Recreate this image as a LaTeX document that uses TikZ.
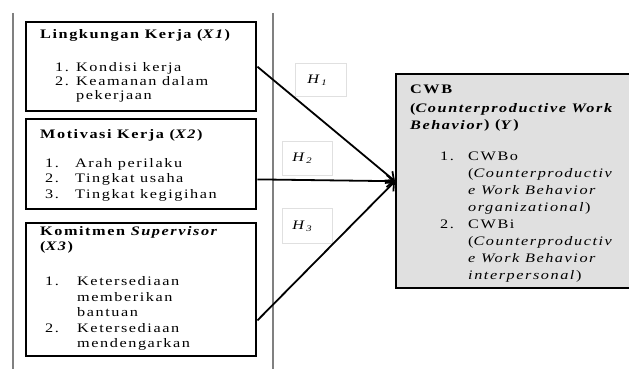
\documentclass[tikz,border=0pt]{standalone}
\usepackage{fontspec}
\setmainfont{Liberation Serif}[FakeStretch=1.25,LetterSpace=12]
\usetikzlibrary{arrows.meta,calc}
\newcommand{\hlab}[1]{\textit{H}\raisebox{-2pt}{\fontsize{8.5}{8.5}\selectfont\textit{#1}}}
\begin{document}
\begin{tikzpicture}[x=1pt,y=-1pt,
 box/.style={draw=black,line width=2.4pt,inner sep=0pt,anchor=north west},
 txt/.style={anchor=base west,inner sep=0pt},
 hbox/.style={draw=black!12,line width=0.8pt,fill=white,anchor=north west,inner xsep=0pt,inner ysep=0pt,align=left,font=\fontsize{13}{15}\selectfont},
 arr/.style={line width=1.8pt,-{Straight Barb[length=7pt,width=12pt,line width=1.8pt]}},
 vline/.style={draw=black!50,line width=1.2pt}]
\useasboundingbox (0,0) rectangle (629,369);
\clip (0,0) rectangle (629,369);
\draw[vline] (13,13) -- (13,369);
\draw[vline] (273,13) -- (273,369);
\node[box,minimum width=230pt,minimum height=89pt] (x1) at (25,21) {};
\node[box,minimum width=230pt,minimum height=90pt] (x2) at (25,118) {};
\node[box,minimum width=230pt,minimum height=133pt] (x3) at (25,222) {};
\node[box,fill=black!12,minimum width=245pt,minimum height=214pt] (y) at (395,73) {};
\node[hbox,text width=51pt,minimum height=33pt] (h1) at (295,63) {\hspace*{12pt}\hlab{1}};
\node[hbox,text width=50pt,minimum height=34pt] (h2) at (282,141) {\hspace*{10pt}\hlab{2}};
\node[hbox,text width=50pt,minimum height=35pt] (h3) at (282,208) {\hspace*{10pt}\hlab{3}};
\draw[arr] (x1.east) -- (y.west);
\draw[arr] ($(x2.south east)+(0,-31)$) -- (y.west);
\draw[arr] ($(x3.south east)+(0,-37)$) -- (y.west);
\node[txt,font=\fontsize{13}{14}\selectfont] (t1) at (40,39) {\begin{tabular}[t]{@{}l@{}}
\textbf{Lingkungan Kerja (\textit{X1})}\\[19pt]
\hspace*{15pt}\makebox[21pt][l]{1.}Kondisi kerja\\
\hspace*{15pt}\makebox[21pt][l]{2.}Keamanan dalam\\
\hspace*{36pt}pekerjaan
\end{tabular}};
\node[txt,font=\fontsize{13}{15.5}\selectfont] (t2) at (40,138) {\begin{tabular}[t]{@{}l@{}}
\textbf{Motivasi Kerja (\textit{X2})}\\[13.5pt]
\hspace*{5pt}\makebox[30pt][l]{1.}Arah perilaku\\
\hspace*{5pt}\makebox[30pt][l]{2.}Tingkat usaha\\
\hspace*{5pt}\makebox[30pt][l]{3.}Tingkat kegigihan
\end{tabular}};
\node[txt,font=\fontsize{13}{15.5}\selectfont] (t3) at (40,235) {\begin{tabular}[t]{@{}l@{}}
\textbf{Komitmen \textit{Supervisor}}\\
\textbf{(\textit{X3})}\\[19.5pt]
\hspace*{5pt}\makebox[32pt][l]{1.}Ketersediaan\\
\hspace*{37pt}memberikan\\
\hspace*{37pt}bantuan\\
\hspace*{5pt}\makebox[32pt][l]{2.}Ketersediaan\\
\hspace*{37pt}mendengarkan
\end{tabular}};
\node[txt,font=\fontsize{13}{17}\selectfont] (t4) at (410,93) {\begin{tabular}[t]{@{}l@{}}
\textbf{CWB}\\[2pt]
\textbf{(\textit{Counterproductive Work}}\\
\textbf{\textit{Behavior}) (\textit{Y})}\\[14pt]
\hspace*{30pt}\makebox[28pt][l]{1.}CWBo\\
\hspace*{58pt}(\textit{Counterproductiv}\\
\hspace*{58pt}\textit{e Work Behavior}\\
\hspace*{58pt}\textit{organizational})\\
\hspace*{30pt}\makebox[28pt][l]{2.}CWBi\\
\hspace*{58pt}(\textit{Counterproductiv}\\
\hspace*{58pt}\textit{e Work Behavior}\\
\hspace*{58pt}\textit{interpersonal})
\end{tabular}};
\end{tikzpicture}
\end{document}
